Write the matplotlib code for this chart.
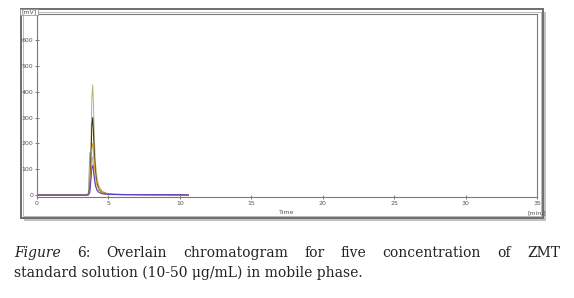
import matplotlib
matplotlib.use("Agg")
import matplotlib.pyplot as plt
from matplotlib.patches import Rectangle

# ---- data ----
time_min = [0.0, 3.45, 3.6, 3.7, 3.78, 3.84, 3.9, 3.95, 4.02, 4.1, 4.2, 4.35, 4.55, 4.85, 5.3, 6.0, 8.0, 10.0, 10.6]
trace_50 = [0.5, 0.5, 3, 40, 200, 380, 426, 350, 210, 120, 65, 32, 16, 8, 4, 3, 2, 1.5, 0.5]
trace_40 = [0.5, 0.5, 2, 30, 150, 270, 300, 245, 150, 85, 45, 22, 11, 6, 3, 2, 1.5, 1, 0.5]
trace_30 = [0.5, 0.5, 2, 20, 100, 180, 200, 175, 115, 70, 38, 20, 11, 7, 5, 3, 1.5, 1, 0.5]
trace_20 = [0.5, 0.5, 8, 165, 160, 150, 140, 110, 70, 40, 22, 12, 6, 3, 2, 1.5, 1, 0.8, 0.5]
trace_10 = [0.5, 0.5, 1, 10, 60, 105, 115, 95, 60, 34, 18, 10, 6, 4, 3, 2.5, 2, 2, 0.5]
trace_colors = ["#b8b46c", "#2b2b2b", "#e09a1c", "#9a9a9a", "#5a3cd6"]

x_ticks = [0, 5, 10, 15, 20, 25, 30, 35]
y_ticks = [0, 100, 200, 300, 400, 500, 600]

W, H = 574, 298
fig = plt.figure(figsize=(W / 100, H / 100), dpi=100)

def fx(px):
    return px / W

def fy(py):
    return 1 - py / H

# outer frame with shadow
shadow = Rectangle((fx(24), fy(221)), fx(543 - 21), (218 - 9) / H, transform=fig.transFigure,
                   facecolor="#9a9a9a", edgecolor="none", alpha=0.6, zorder=0)
fig.patches.append(shadow)
frame = Rectangle((fx(21), fy(218)), fx(543 - 21), (218 - 9) / H, transform=fig.transFigure,
                  facecolor="white", edgecolor="#6e6e6e", lw=1.4, zorder=1)
fig.patches.append(frame)
frame2 = Rectangle((fx(23.5), fy(216)), fx(540.5 - 23.5), (216 - 11.5) / H, transform=fig.transFigure,
                   facecolor="none", edgecolor="#b0b0b0", lw=0.6, zorder=1)
fig.patches.append(frame2)

ax = fig.add_axes([fx(37), fy(197), fx(537 - 37), (197 - 14) / H])
ax.set_zorder(2)
series = [trace_50, trace_40, trace_30, trace_20, trace_10]
order = [3, 0, 1, 2, 4]
for i in order:
    ax.plot(time_min, series[i], color=trace_colors[i], lw=0.7)

ax.set_xlim(0, 35)
ax.set_ylim(-7, 700)
ax.set_xticks(x_ticks)
ax.set_yticks(y_ticks)
ax.tick_params(axis="both", labelsize=4.5, labelcolor="#555555", color="#666666",
               length=2.5, width=0.6, direction="inout", pad=1.5)
for s in ax.spines.values():
    s.set_color("#7a7a7a")
    s.set_linewidth(0.8)

fig.text(fx(287), fy(213), "Time", fontsize=4.5, color="#555555", ha="center", va="center")
fig.text(fx(537), fy(213), "[min.]", fontsize=4.5, color="#555555", ha="center", va="center")
fig.text(fx(29), fy(12), "[mV]", fontsize=4.5, color="#555555", ha="center", va="center",
         bbox=dict(boxstyle="square,pad=0.15", fc="white", ec="#888888", lw=0.5))

# caption
serif = "DejaVu Serif"
fs = 10.0
renderer = fig.canvas.get_renderer()
line1 = [("Figure", "italic"), ("6:", "normal"), ("Overlain", "normal"), ("chromatogram", "normal"),
         ("for", "normal"), ("five", "normal"), ("concentration", "normal"), ("of", "normal"), ("ZMT", "normal")]
texts = []
widths = []
for w, st in line1:
    t = fig.text(0, fy(257), w, fontsize=fs, family=serif, style=st, color="#222222", va="baseline")
    bb = t.get_window_extent(renderer=renderer)
    texts.append(t)
    widths.append(bb.width)
x0, x1 = 14, 560
gap = (x1 - x0 - sum(widths)) / (len(widths) - 1)
x = x0
for t, w in zip(texts, widths):
    t.set_x(fx(x))
    x += w + gap

fig.text(fx(14), fy(277), "standard solution (10-50 μg/mL) in mobile phase.", fontsize=fs,
         family=serif, color="#222222", va="baseline")

fig.savefig("out.png", dpi=100)
